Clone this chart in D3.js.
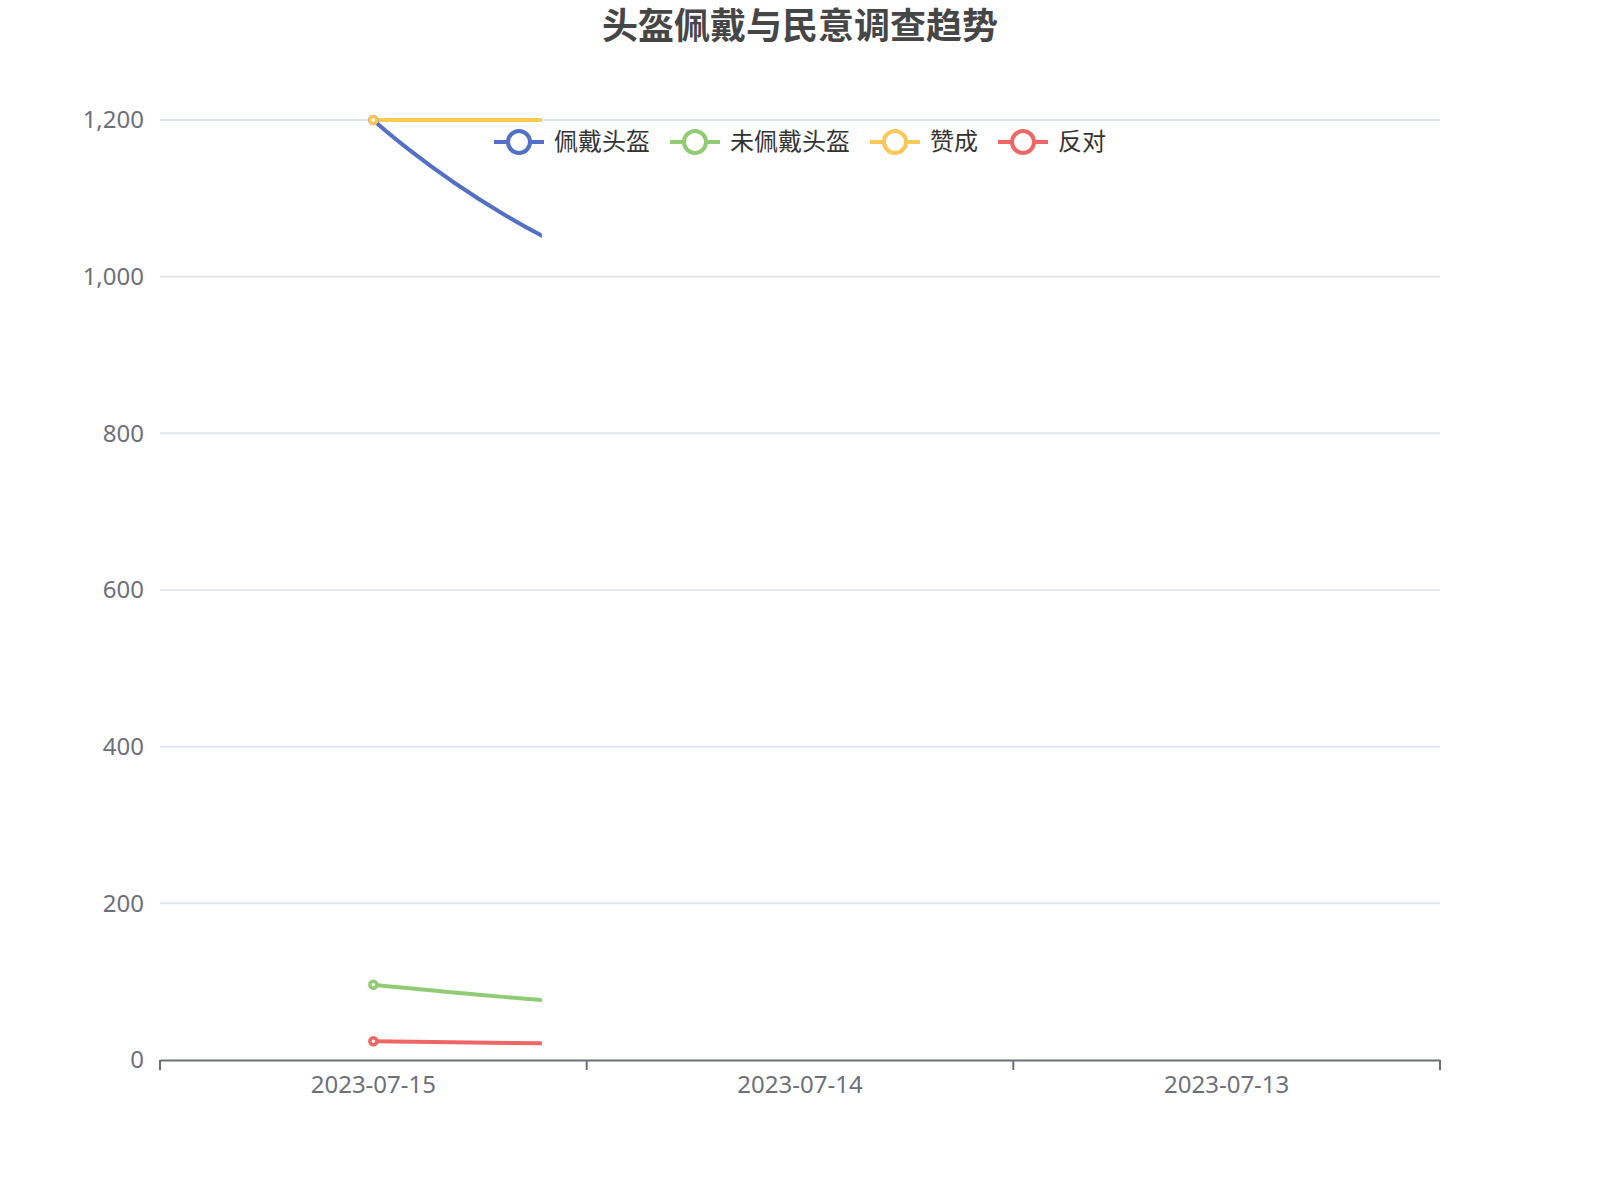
<!DOCTYPE html>
<html lang="zh">
<head>
<meta charset="UTF-8">
<title>头盔佩戴与民意调查趋势</title>
<style>
  body { margin: 0; background: #fff; font-family: "Noto Sans", "Noto Sans CJK SC", sans-serif; }
  svg { display: block; }
</style>
</head>
<body>
<svg id="chart" width="1600" height="1200"></svg>
<script src="https://cdn.jsdelivr.net/npm/d3@7/dist/d3.min.js"></script>
<script>
// data
const dates = ["2023-07-15", "2023-07-14", "2023-07-13"];
const seriesNames = ["佩戴头盔", "未佩戴头盔", "赞成", "反对"];
const helmetOn = [1200, 960, 975];
const helmetOff = [96, 54, 40];
const approve = [1200, 1200, 1200];
const oppose = [24, 17, 12];
const yTicks = [0, 200, 400, 600, 800, 1000, 1200];
const colors = ["#5470c6", "#91cc75", "#fac858", "#ee6666"];
// the line-drawing animation was caught part way through the first interval
const revealed = 0.395;

const svg = d3.select("#chart"),
      width = +svg.attr("width"),
      height = +svg.attr("height");
const margin = {top: 120, right: 160, bottom: 140, left: 160};
const font = '"Noto Sans", "Noto Sans CJK SC", sans-serif';

const x = d3.scaleBand()
    .domain(dates)
    .range([margin.left, width - margin.right]);

const y = d3.scaleLinear()
    .domain([0, 1200])
    .range([height - margin.bottom, margin.top]);

// smooth curve in the style of the original chart (bezier control points
// along the neighbour direction, clamped so extremes stay flat)
function smoothCurve(context) {
    let pts;
    return {
        areaStart() {}, areaEnd() {},
        lineStart() { pts = []; },
        point(px, py) { pts.push([+px, +py]); },
        lineEnd() {
            const s = 0.5;
            let cp0;
            pts.forEach((p, i) => {
                if (i === 0) { context.moveTo(p[0], p[1]); cp0 = p; return; }
                const prev = pts[i - 1], next = pts[i + 1];
                let cp1, nextCp0;
                if (!next) {
                    cp1 = p;
                } else {
                    const lenPrev = Math.hypot(p[0] - prev[0], p[1] - prev[1]);
                    const lenNext = Math.hypot(next[0] - p[0], next[1] - p[1]);
                    const ratio = lenNext / (lenNext + lenPrev);
                    let vx = next[0] - prev[0], vy = next[1] - prev[1];
                    let nx = p[0] + vx * s * ratio, ny = p[1] + vy * s * ratio;
                    nx = Math.max(Math.min(nx, Math.max(next[0], p[0])), Math.min(next[0], p[0]));
                    ny = Math.max(Math.min(ny, Math.max(next[1], p[1])), Math.min(next[1], p[1]));
                    vx = nx - p[0]; vy = ny - p[1];
                    let c1x = p[0] - vx * lenPrev / lenNext, c1y = p[1] - vy * lenPrev / lenNext;
                    c1x = Math.max(Math.min(c1x, Math.max(prev[0], p[0])), Math.min(prev[0], p[0]));
                    c1y = Math.max(Math.min(c1y, Math.max(prev[1], p[1])), Math.min(prev[1], p[1]));
                    cp1 = [c1x, c1y];
                    nextCp0 = [p[0] + (p[0] - c1x) * lenNext / lenPrev, p[1] + (p[1] - c1y) * lenNext / lenPrev];
                }
                context.bezierCurveTo(cp0[0], cp0[1], cp1[0], cp1[1], p[0], p[1]);
                cp0 = nextCp0;
            });
        }
    };
}

// title
svg.append("text")
    .attr("x", width / 2)
    .attr("y", 39)
    .attr("text-anchor", "middle")
    .style("font-family", font)
    .style("font-size", "36px")
    .style("font-weight", "bold")
    .style("fill", "#464646")
    .text("头盔佩戴与民意调查趋势");

// horizontal grid
svg.append("g")
    .selectAll("line")
    .data(yTicks.filter(d => d > 0))
    .join("line")
    .attr("x1", margin.left)
    .attr("x2", width - margin.right)
    .attr("y1", d => y(d))
    .attr("y2", d => y(d))
    .attr("stroke", "#E0E6F1")
    .attr("stroke-width", 2);

// y axis (labels only)
const yAxis = svg.append("g")
    .attr("transform", `translate(${margin.left},0)`)
    .call(d3.axisLeft(y).tickValues(yTicks).tickFormat(d3.format(",")).tickSize(0).tickPadding(16));
yAxis.select(".domain").remove();
yAxis.selectAll("text")
    .style("font-family", font)
    .style("font-size", "24px")
    .attr("fill", "#6E7079");

// x axis
const xAxis = svg.append("g")
    .attr("transform", `translate(0,${height - margin.bottom})`)
    .call(d3.axisBottom(x).tickSize(0).tickPadding(16));
xAxis.select(".domain").attr("stroke", "#6E7079").attr("stroke-width", 2);
xAxis.selectAll("text")
    .style("font-family", font)
    .style("font-size", "24px")
    .attr("fill", "#6E7079");
// boundary ticks between categories
const boundaries = [...dates.map(d => x(d)), x.range()[1]];
xAxis.append("g")
    .selectAll("line")
    .data(boundaries)
    .join("line")
    .attr("x1", d => d)
    .attr("x2", d => d)
    .attr("y1", 0)
    .attr("y2", 10)
    .attr("stroke", "#6E7079")
    .attr("stroke-width", 2);

// clip for partially revealed lines
const cx = d => x(d) + x.bandwidth() / 2;
const clipRight = cx(dates[0]) + revealed * x.step();
svg.append("defs").append("clipPath")
    .attr("id", "reveal")
    .append("rect")
    .attr("x", 0)
    .attr("y", 0)
    .attr("width", clipRight)
    .attr("height", height);

const allSeries = [helmetOn, helmetOff, approve, oppose];
const line = d3.line()
    .x((d, i) => cx(dates[i]))
    .y(d => y(d))
    .curve(smoothCurve);

const plot = svg.append("g").attr("clip-path", "url(#reveal)");
allSeries.forEach((vals, k) => {
    plot.append("path")
        .datum(vals)
        .attr("d", line)
        .attr("fill", "none")
        .attr("stroke", colors[k])
        .attr("stroke-width", 4)
        .attr("stroke-linejoin", "round");
});
allSeries.forEach((vals, k) => {
    plot.append("g")
        .selectAll("circle")
        .data(vals)
        .join("circle")
        .attr("cx", (d, i) => cx(dates[i]))
        .attr("cy", d => y(d))
        .attr("r", 3.5)
        .attr("fill", "#fff")
        .attr("stroke", colors[k])
        .attr("stroke-width", 3.5);
});

// legend
const legend = svg.append("g");
const items = legend.selectAll("g")
    .data(seriesNames)
    .join("g");
items.append("line")
    .attr("x1", 0).attr("x2", 50)
    .attr("y1", 0).attr("y2", 0)
    .attr("stroke", (d, i) => colors[i])
    .attr("stroke-width", 4);
items.append("circle")
    .attr("cx", 25).attr("cy", 0).attr("r", 11)
    .attr("fill", "#fff")
    .attr("stroke", (d, i) => colors[i])
    .attr("stroke-width", 4);
items.append("text")
    .attr("x", 60)
    .attr("y", 0)
    .attr("dy", "0.35em")
    .style("font-family", font)
    .style("font-size", "24px")
    .attr("fill", "#333")
    .text(d => d);
let offset = 0;
items.each(function() {
    const w = this.getBBox().width;
    d3.select(this).attr("transform", `translate(${offset},142)`);
    offset += w + 20;
});
const total = offset - 20;
legend.attr("transform", `translate(${(width - total) / 2},0)`);
</script>
</body>
</html>
